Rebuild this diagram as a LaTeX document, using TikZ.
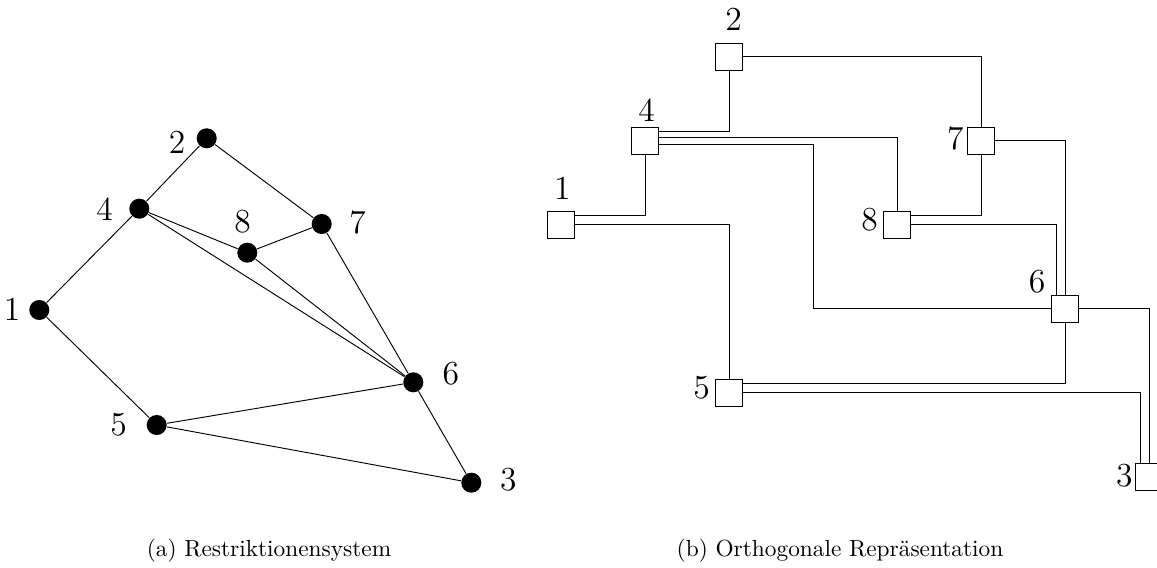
\documentclass[tikz,border=0pt]{standalone}
\usepackage{tikz}
\usetikzlibrary{positioning}
\begin{document}
\begin{tikzpicture}[x=0.4286pt,y=-0.4286pt]
  \tikzstyle{vtx}=[circle,fill=black,minimum size=8.6pt,inner sep=0pt]
  \tikzstyle{sq}=[draw,minimum size=11.6pt,inner sep=0pt]
  \tikzstyle{lab}=[font=\Large,inner sep=0pt]
  \useasboundingbox (0,0) rectangle (1157,567);
  % (a) restriction system
  \node[vtx] (n1) at (39.3,310) {};
  \node[vtx] (n2) at (206.7,138.3) {};
  \node[vtx] (n3) at (471.3,482.7) {};
  \node[vtx] (n4) at (139.3,208.7) {};
  \node[vtx] (n5) at (156.7,425) {};
  \node[vtx] (n6) at (413.3,382.3) {};
  \node[vtx] (n7) at (321.7,224) {};
  \node[vtx] (n8) at (247.3,252.7) {};
  \node[lab] (l1) at (12,309.7) {1};
  \node[lab] (l2) at (177,142) {2};
  \node[lab] (l3) at (508.3,480) {3};
  \node[lab] (l4) at (104.7,209) {4};
  \node[lab] (l5) at (118.7,424.5) {5};
  \node[lab] (l6) at (450.8,373.3) {6};
  \node[lab] (l7) at (357.5,222.5) {7};
  \node[lab] (l8) at (242.5,221.7) {8};
  \foreach \a/\b in {1/4,1/5,2/4,2/7,4/8,4/6,8/7,8/6,7/6,5/6,5/3,6/3}
    \draw (n\a) -- (n\b);
  \node[anchor=base] (capa) at (269,556) {(a) Restriktionensystem};
  % (b) orthogonal representation
  \begin{scope}[shift={(561.2,56.8)},x=36pt,y=-36pt]
    \foreach \n/\x/\y in {1/0/2,2/2/0,3/7/5,4/1/1,5/2/4,6/6/3,7/5/1,8/4/2}
      \node[sq] (r\n) at (\x,\y) {};
    \coordinate (b46) at (3,3);
  \end{scope}
  \draw (r2.east) -| (r7);
  \draw (r2) |- ([yshift=4.2pt]r4.east);
  \draw ([yshift=1.5pt]r4.east) -| (r8);
  \draw ([yshift=-1.5pt]r4.east) -| (b46) -- (r6);
  \draw (r4) |- ([yshift=3.8pt]r1.east);
  \draw (r1.east) -| (r5);
  \draw ([yshift=3.8pt]r8.east) -| (r7);
  \draw (r8.east) -| ([xshift=-3.6pt]r6.north);
  \draw (r7.east) -| (r6);
  \draw (r6) |- ([yshift=3.8pt]r5.east);
  \draw (r5.east) -| ([xshift=-3.6pt]r3.north);
  \draw (r6.east) -| (r3);
  \node[lab,above=5pt of r2,xshift=1.9pt] (t2) {2};
  \node[lab,above=2pt of r4,xshift=0.6pt] (t4) {4};
  \node[lab,above=4.8pt of r1,xshift=0.5pt] (t1) {1};
  \node[lab,left=1.3pt of r7,yshift=0.9pt] (t7) {7};
  \node[lab,left=2.1pt of r8,yshift=2.3pt] (t8) {8};
  \node[lab,above left=0.3pt and 2.3pt of r6] (t6) {6};
  \node[lab,left=2.1pt of r5,yshift=2.1pt] (t5) {5};
  \node[lab,left=0.9pt of r3,yshift=0.6pt] (t3) {3};
  \node[anchor=base] (capb) at (840,556) {(b) Orthogonale Repräsentation};
\end{tikzpicture}
\end{document}
